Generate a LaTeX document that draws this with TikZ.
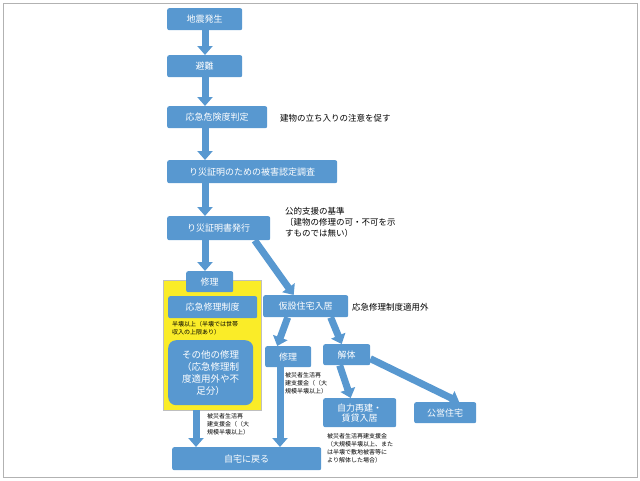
\documentclass[tikz,border=0pt]{standalone}
\usepackage{fontspec}
\setmainfont{Noto Sans CJK JP}
\usetikzlibrary{arrows.meta}
\definecolor{bx}{RGB}{88,152,208}
\definecolor{yl}{RGB}{250,236,40}
\tikzset{
 box/.style={fill=bx,rounded corners=2pt,text=white,font=\fontsize{9}{10}\selectfont,inner sep=0pt,anchor=north west},
 note/.style={font=\fontsize{8.5}{11}\selectfont,align=left,anchor=west,inner sep=0pt},
 small/.style={font=\fontsize{6}{8}\selectfont,align=left,anchor=north west,inner sep=0pt},
 arr/.style={draw=bx,line width=7pt,-{Triangle[width=15pt,length=9pt]}}
}
\begin{document}
\begin{tikzpicture}[x=1pt,y=-1pt]
\useasboundingbox (0,0) rectangle (640,480);
\draw[gray!60,line width=1pt] (3,3) rectangle (637,477);
\coordinate (col) at (205,0);
\coordinate (col2) at (196,0);
\coordinate (col3) at (280,0);
\node[box,minimum width=75,minimum height=22] (a) at (167,8) {地震発生};
\node[box,minimum width=75,minimum height=22] (b) at (167,55) {避難};
\node[box,minimum width=100,minimum height=22] (c) at (167,106) {応急危険度判定};
\node[note] (cn) at (280,118) {建物の立ち入りの注意を促す};
\node[box,minimum width=170,minimum height=23] (d) at (167,160) {り災証明のための被害認定調査};
\node[box,minimum width=103,minimum height=24] (e) at (167,216) {り災証明書発行};
\node[note,anchor=north west] (en) at (285,207) {公的支援の基準\\〔建物の修理の可・不可を示\\すものでは無い）};
\node[fill=yl,draw=gray!50,minimum width=98,minimum height=130,anchor=north west,inner sep=0pt] (y) at (163,280) {};
\node[box,minimum width=47,minimum height=21] (f) at (186,271) {修理};
\node[box,minimum width=89,minimum height=22] (g) at (168,296) {応急修理制度};
\node[small] (gn) at (172,321) {半壊以上（半壊では世帯\\収入の上限あり）};
\node[box,minimum width=85,minimum height=65,rounded corners=8pt,align=center,font=\fontsize{9.5}{12}\selectfont] (h) at (168,340) {その他の修理\\（応急修理制\\度適用外や不\\足分）};
\node[box,minimum width=85,minimum height=22] (i) at (263,295) {仮設住宅入居};
\node[note] (in) at (352,307) {応急修理制度適用外};
\node[box,minimum width=46,minimum height=21] (j) at (265,346) {修理};
\node[box,minimum width=47,minimum height=21] (k) at (323,344) {解体};
\node[small] (jn) at (285,372) {被災者生活再\\建支援金（（大\\規模半壊以上）};
\node[box,minimum width=73,minimum height=29,align=center] (l) at (323,398) {自力再建・\\賃貸入居};
\node[box,minimum width=62,minimum height=21] (m) at (414,402) {公営住宅};
\node[small] (ln) at (327,433) {被災者生活再建支援金\\（大規模半壊以上、また\\は半壊で敷地被害等に\\より解体した場合）};
\node[small] (yn) at (207,413) {被災者生活再\\建支援金（（大\\規模半壊以上）};
\node[box,minimum width=149,minimum height=23] (n) at (172,447) {自宅に戻る};
\draw[arr] (a.south -| col) -- (b.north -| col);
\draw[arr] (b.south -| col) -- (c.north -| col);
\draw[arr] (c.south -| col) -- (d.north -| col);
\draw[arr] (d.south -| col) -- (e.north -| col);
\draw[arr] (e.south -| col) -- (f.north -| col);
\draw[arr] ([xshift=36]e.south) -- ([xshift=-12]i.north);
\draw[arr] (y.south -| col2) -- (n.north -| col2);
\draw[arr] ([xshift=-18]i.south) -- ([xshift=-11]j.north);
\draw[arr] (j.south -| col3) -- (n.north -| col3);
\draw[arr] ([xshift=25]i.south) -- ([xshift=-5]k.north);
\draw[arr] ([xshift=-7]k.south) -- ([xshift=-9]l.north);
\draw[arr] ([yshift=-4]k.east) -- ([xshift=14]m.north);
\end{tikzpicture}
\end{document}
